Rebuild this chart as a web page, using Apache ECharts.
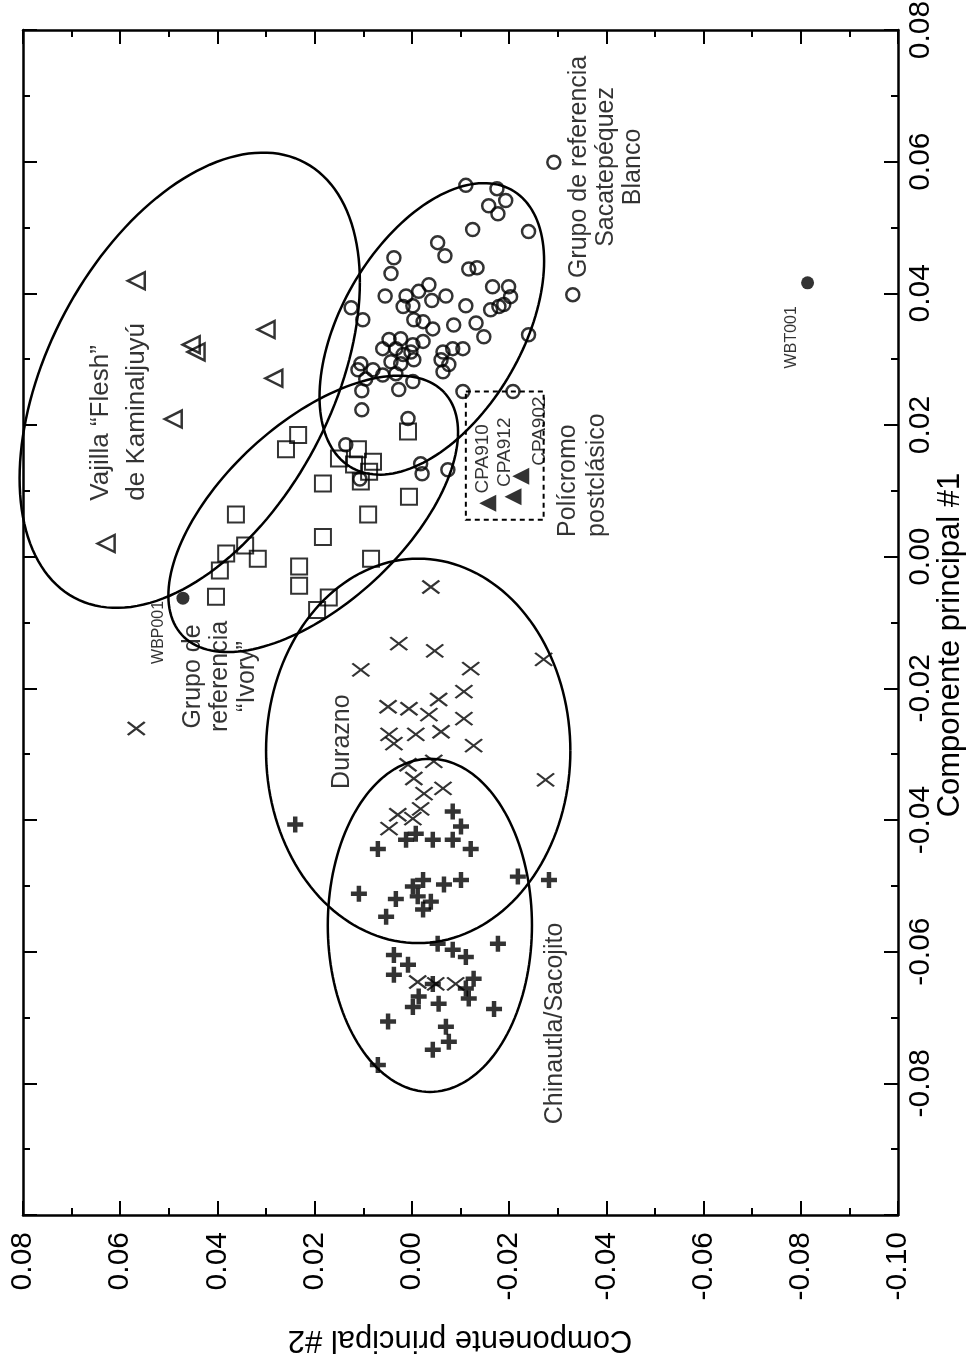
<!DOCTYPE html>
<html><head><meta charset="utf-8">
<script src="https://cdn.jsdelivr.net/npm/echarts@6/dist/echarts.min.js"></script>
<style>html,body{margin:0;padding:0;background:#fff}#c{width:968px;height:1362px}</style>
</head><body><div id="c"></div>
<script>
// Axis ranges / ticks (both axes: Componente principal #1 and #2)
const axisMin = -0.10, axisMax = 0.08, axisStep = 0.02;
const tickLabels = ['-0.10','-0.08','-0.06','-0.04','-0.02','0.00','0.02','0.04','0.06','0.08'];

// Points: [PC2, PC1]
const sacatepequez = [[-0.0292,0.0599],[-0.0111,0.0564],[-0.0175,0.0559],[-0.0193,0.0541],[-0.0158,0.0533],[-0.0177,0.0521],[-0.0125,0.0497],[-0.0240,0.0494],[-0.0053,0.0477],[-0.0068,0.0457],[0.0037,0.0454],[-0.0117,0.0437],[-0.0134,0.0439],[0.0043,0.0430],[-0.0166,0.0410],[-0.0199,0.0410],[-0.0035,0.0413],[-0.0203,0.0395],[-0.0189,0.0383],[-0.0179,0.0380],[-0.0162,0.0375],[-0.0014,0.0403],[0.0012,0.0396],[-0.0070,0.0396],[0.0055,0.0396],[-0.0041,0.0389],[0.0018,0.0380],[-0.0002,0.0381],[-0.0111,0.0381],[0.0125,0.0378],[0.0101,0.0360],[-0.0004,0.0360],[-0.0023,0.0357],[-0.0086,0.0352],[-0.0132,0.0355],[-0.0043,0.0346],[-0.0148,0.0334],[-0.0240,0.0337],[-0.0023,0.0327],[-0.0002,0.0322],[0.0060,0.0316],[0.0047,0.0330],[0.0023,0.0331],[0.0033,0.0316],[0.0018,0.0307],[0.0002,0.0311],[0.0043,0.0296],[0.0023,0.0293],[-0.0004,0.0299],[-0.0064,0.0311],[-0.0084,0.0316],[-0.0105,0.0316],[-0.0060,0.0299],[-0.0076,0.0292],[-0.0064,0.0281],[0.0105,0.0293],[0.0111,0.0284],[0.0080,0.0284],[0.0060,0.0276],[0.0095,0.0270],[0.0033,0.0278],[-0.0002,0.0266],[0.0027,0.0254],[0.0103,0.0252],[0.0103,0.0223],[-0.0105,0.0251],[-0.0208,0.0251],[0.0136,0.0170],[0.0008,0.0210],[0.0107,0.0118],[-0.0018,0.0141],[-0.0021,0.0126],[-0.0074,0.0132],[-0.0331,0.0398]];
const ivory = [[0.0234,0.0185],[0.0259,0.0163],[0.0150,0.0149],[0.0111,0.0163],[0.0119,0.0140],[0.0080,0.0144],[0.0088,0.0129],[0.0105,0.0114],[0.0183,0.0111],[0.0006,0.0091],[0.0362,0.0064],[0.0090,0.0064],[0.0183,0.0030],[0.0382,0.0005],[0.0343,0.0017],[0.0317,-0.0003],[0.0395,-0.0021],[0.0084,-0.0003],[0.0232,-0.0015],[0.0232,-0.0044],[0.0403,-0.0061],[0.0171,-0.0062],[0.0195,-0.0081],[0.0008,0.0190]];
const flesh = [[0.0567,0.0419],[0.0300,0.0345],[0.0454,0.0322],[0.0444,0.0311],[0.0284,0.0271],[0.0491,0.0209],[0.0629,0.0020]];
const durazno = [[0.0567,-0.0261],[-0.0039,-0.0046],[0.0027,-0.0132],[-0.0047,-0.0143],[0.0105,-0.0172],[-0.0121,-0.0170],[-0.0271,-0.0156],[-0.0107,-0.0205],[-0.0055,-0.0217],[0.0049,-0.0228],[0.0006,-0.0231],[-0.0035,-0.0240],[-0.0107,-0.0246],[-0.0008,-0.0270],[-0.0060,-0.0266],[0.0047,-0.0270],[0.0037,-0.0284],[-0.0127,-0.0287],[-0.0045,-0.0311],[0.0008,-0.0316],[-0.0004,-0.0337],[-0.0275,-0.0339],[-0.0064,-0.0352],[-0.0025,-0.0360],[-0.0018,-0.0383],[0.0029,-0.0392],[0.0047,-0.0413],[-0.0002,-0.0398],[-0.0012,-0.0646],[-0.0049,-0.0649],[-0.0090,-0.0649]];
const chinautla = [[0.0240,-0.0407],[-0.0084,-0.0387],[-0.0101,-0.0410],[0.0070,-0.0444],[0.0012,-0.0430],[-0.0043,-0.0430],[-0.0084,-0.0430],[-0.0121,-0.0444],[-0.0008,-0.0421],[-0.0218,-0.0486],[-0.0282,-0.0491],[0.0109,-0.0512],[0.0033,-0.0520],[-0.0002,-0.0501],[-0.0023,-0.0491],[-0.0066,-0.0498],[-0.0101,-0.0491],[-0.0012,-0.0516],[-0.0039,-0.0524],[-0.0023,-0.0536],[0.0053,-0.0547],[-0.0177,-0.0588],[-0.0053,-0.0588],[-0.0084,-0.0597],[-0.0111,-0.0608],[0.0037,-0.0605],[0.0008,-0.0620],[0.0037,-0.0635],[-0.0043,-0.0649],[-0.0127,-0.0641],[-0.0111,-0.0656],[-0.0002,-0.0684],[-0.0055,-0.0679],[-0.0117,-0.0671],[-0.0169,-0.0687],[0.0049,-0.0706],[-0.0070,-0.0714],[-0.0076,-0.0737],[-0.0043,-0.0749],[0.0070,-0.0772],[-0.0014,-0.0668]];
const policromo = [[-0.0156,0.0081],[-0.0208,0.0091],[-0.0224,0.0122]];
const singles = [[0.0471,-0.0063],[-0.0814,0.0416]];

// Ellipses: [centerPC2, centerPC1, uPC2, uPC1, vPC2, vPC1]
const ellipses = [
  [0.0457, 0.0268, -0.0350, 0.0149, 0, -0.0312],
  [-0.0041, 0.0346, -0.0231, 0.0103, 0, -0.0196],
  [0.0203, 0.0065, -0.0270, 0.0184, -0.0126, -0.0101],
  [-0.0013, -0.0295, -0.0313, 0, 0, -0.0292],
  [-0.0037, -0.0560, -0.0210, 0, 0, -0.0253]
];
// Dashed box: [PC2 a, PC1 a, PC2 b, PC1 b]
const dashedBox = [[-0.0111, 0.0251, -0.0271, 0.0056]];

// Annotations: text and anchor [PC2, PC1]
const annotations = [
  {text:'Vajilla “Flesh”\nde Kaminaljuyú', at:[0.0603,0.0085], kind:'groupL'},
  {text:'Grupo de referencia\nSacatepéquez\nBlanco', at:[-0.0400,0.0592], kind:'groupC'},
  {text:'Polícromo\npostclásico', at:[-0.0352,0.0030], kind:'groupL2'},
  {text:'Grupo de\nreferencia\n“Ivory”', at:[0.0394,-0.0182], kind:'groupC'},
  {text:'Durazno', at:[0.0143,-0.0281], kind:'groupC'},
  {text:'Chinautla/Sacojito', at:[-0.0295,-0.0709], kind:'groupC'},
  {text:'CPA910', at:[-0.0146,0.0096], kind:'code'},
  {text:'CPA912', at:[-0.0192,0.0106], kind:'code'},
  {text:'CPA902', at:[-0.0264,0.0138], kind:'code'},
  {text:'WBP001', at:[0.0522,-0.0163], kind:'small'},
  {text:'WBT001', at:[-0.0782,0.0286], kind:'small'}
];

const FONT = "'Liberation Sans', Arial, Helvetica, sans-serif";
const kindStyle = {
  groupL:  {fontSize:26, lineHeight:36, align:'left'},
  groupL2: {fontSize:25, lineHeight:29, align:'left'},
  groupC:  {fontSize:25, lineHeight:27, align:'center'},
  code:    {fontSize:19, lineHeight:20, align:'left'},
  small:   {fontSize:16, lineHeight:18, align:'left'}
};

function fmt(v){ const i = Math.round((v - axisMin)/axisStep); return tickLabels[i] !== undefined ? tickLabels[i] : ''; }

const chart = echarts.init(document.getElementById('c'), null, {renderer:'canvas'});
const axisCommon = {
  type:'value', min:axisMin, max:axisMax, interval:axisStep,
  axisLine:{show:true, onZero:false, lineStyle:{color:'#000', width:2.5}},
  axisTick:{show:true, inside:true, length:14, lineStyle:{color:'#000', width:2}},
  minorTick:{show:true, splitNumber:2, length:7, lineStyle:{color:'#000', width:2}},
  splitLine:{show:false}, minorSplitLine:{show:false}
};
const stroke = {color:'transparent', borderColor:'#000', borderWidth:2.5};

chart.setOption({
  animation:false,
  backgroundColor:'#fff',
  textStyle:{fontFamily:FONT, color:'#000'},
  grid:{left:23, right:70, top:30, bottom:147, containLabel:false, outerBoundsMode:'none'},
  xAxis:[
    Object.assign({}, axisCommon, {position:'bottom', inverse:true,
      axisLabel:{show:true, rotate:90, margin:17, fontSize:30, fontFamily:FONT, color:'#000', formatter:fmt, showMinLabel:true, showMaxLabel:true}}),
    Object.assign({}, axisCommon, {position:'top', inverse:true, axisLabel:{show:false}})
  ],
  yAxis:[
    Object.assign({}, axisCommon, {position:'right',
      axisLabel:{show:true, rotate:90, margin:8, fontSize:30, fontFamily:FONT, color:'#000', formatter:fmt, showMinLabel:false, showMaxLabel:true}}),
    Object.assign({}, axisCommon, {position:'left', axisLabel:{show:false}})
  ],
  graphic:[
    {type:'text', x:460, y:1340, rotation:Math.PI, style:{text:'Componente principal #2', font:'31px '+FONT, fill:'#000', align:'center', verticalAlign:'middle'}},
    {type:'text', x:950, y:645, rotation:Math.PI/2, style:{text:'Componente principal #1', font:'31px '+FONT, fill:'#000', align:'center', verticalAlign:'middle'}}
  ],
  series:[
    {type:'custom', name:'ellipses', xAxisIndex:0, yAxisIndex:0, data:ellipses, encode:{x:0,y:1}, silent:true, z:1,
      renderItem:function(params, api){
        const cx=api.value(0), cy=api.value(1), ux=api.value(2), uy=api.value(3), vx=api.value(4), vy=api.value(5);
        const pts=[]; const n=160;
        for(let i=0;i<=n;i++){ const t=2*Math.PI*i/n; pts.push(api.coord([cx+ux*Math.cos(t)+vx*Math.sin(t), cy+uy*Math.cos(t)+vy*Math.sin(t)])); }
        return {type:'polyline', shape:{points:pts}, style:{fill:null, stroke:'#000', lineWidth:2.5}};
      }},
    {type:'custom', name:'box', xAxisIndex:0, yAxisIndex:0, data:dashedBox, encode:{x:[0,2],y:[1,3]}, silent:true, z:1,
      renderItem:function(params, api){
        const a=api.coord([api.value(0), api.value(1)]), b=api.coord([api.value(2), api.value(3)]);
        return {type:'rect', shape:{x:Math.min(a[0],b[0]), y:Math.min(a[1],b[1]), width:Math.abs(b[0]-a[0]), height:Math.abs(b[1]-a[1])}, style:{fill:null, stroke:'#000', lineWidth:2, lineDash:[5,4]}};
      }},
    {type:'scatter', name:'Sacatepéquez Blanco', data:sacatepequez, symbol:'circle', symbolSize:13, itemStyle:stroke, z:3},
    {type:'scatter', name:'Ivory', data:ivory, symbol:'rect', symbolSize:16, itemStyle:{color:'transparent', borderColor:'#000', borderWidth:2}, z:3},
    {type:'scatter', name:'Flesh', data:flesh, symbol:'triangle', symbolRotate:90, symbolSize:17, itemStyle:stroke, z:3},
    {type:'scatter', name:'Durazno', data:durazno, symbol:'path://M0,0L16,12M16,0L0,12', symbolSize:[17,13], itemStyle:{color:'transparent', borderColor:'#000', borderWidth:2.2}, z:3},
    {type:'scatter', name:'Chinautla/Sacojito', data:chinautla, symbol:'path://M3.6,0H6.4V3.6H10V6.4H6.4V10H3.6V6.4H0V3.6H3.6Z', symbolSize:16, itemStyle:{color:'#000'}, z:3},
    {type:'scatter', name:'Polícromo postclásico', data:policromo, symbol:'triangle', symbolRotate:90, symbolSize:17, itemStyle:{color:'#000'}, z:3},
    {type:'scatter', name:'WB', data:singles, symbol:'circle', symbolSize:13, itemStyle:{color:'#000'}, z:3},
    {type:'scatter', name:'labels', silent:true, z:4, symbolSize:1, itemStyle:{color:'transparent'},
      data:annotations.map(a=>{ const s=kindStyle[a.kind]; return {value:a.at, label:{show:true, position:'inside', rotate:90, formatter:a.text, fontSize:s.fontSize, lineHeight:s.lineHeight, align:s.align, verticalAlign:'middle', fontFamily:FONT, color:'#000'}}; })}
  ]
});
</script></body></html>
